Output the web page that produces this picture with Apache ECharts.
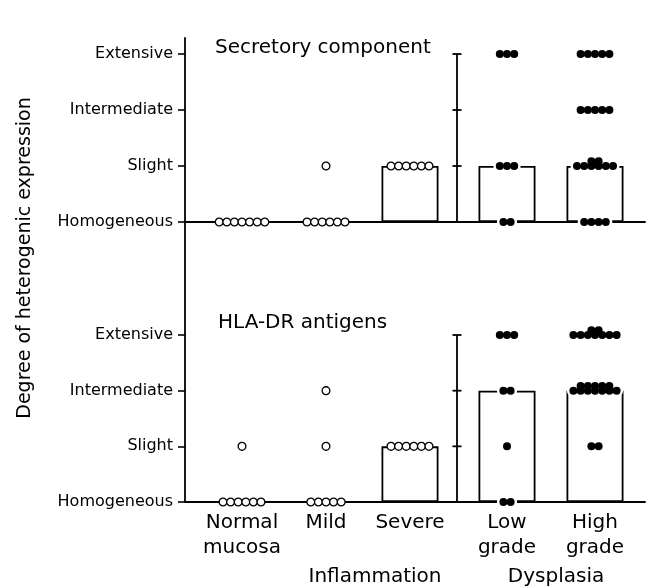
<!DOCTYPE html>
<html>
<head>
<meta charset="utf-8">
<script src="https://cdn.jsdelivr.net/npm/echarts@6/dist/echarts.min.js"></script>
<style>
  html, body { margin: 0; padding: 0; background: #fff; }
  #chart { width: 651px; height: 588px; }
</style>
</head>
<body>
<div id="chart"></div>
<script>
// y levels, bottom to top
const levelLabels = ['Homogeneous', 'Slight', 'Intermediate', 'Extensive']
const groups = ['Normal\nmucosa', 'Mild', 'Severe', 'Low\ngrade', 'High\ngrade']
const openMarker = [true, true, true, false, false]

// dots per level (Homogeneous, Slight, Intermediate, Extensive) for each group
const secretoryCounts = [[7, 0, 0, 0], [6, 1, 0, 0], [0, 6, 0, 0], [2, 3, 0, 3], [4, 8, 5, 5]]
// how many of those dots sit on a raised second row
const secretoryRaised = [[0, 0, 0, 0], [0, 0, 0, 0], [0, 0, 0, 0], [0, 0, 0, 0], [0, 2, 0, 0]]
const secretoryMedian = [0, 0, 1, 1, 1]

const hlaCounts = [[6, 1, 0, 0], [5, 1, 1, 0], [0, 6, 0, 0], [2, 1, 2, 3], [0, 2, 12, 9]]
const hlaRaised = [[0, 0, 0, 0], [0, 0, 0, 0], [0, 0, 0, 0], [0, 0, 0, 0], [0, 0, 5, 2]]
const hlaMedian = [0, 0, 1, 2, 2]

// layout (x in px from the y axis)
const groupX = [57, 141, 225, 322, 410]
const sepX = 272
const font = 'DejaVu Sans'
const ink = '#000'

function buildDots(counts, raised) {
  const open = []
  const filled = []
  counts.forEach((row, g) => {
    const step = openMarker[g] ? 7.6 : 7.2
    row.forEach((n, lvl) => {
      const up = raised[g][lvl]
      const low = n - up
      for (let k = 0; k < low; k++) {
        const p = [groupX[g] + (k - (low - 1) / 2) * step, lvl]
        ;(openMarker[g] ? open : filled).push(p)
      }
      for (let k = 0; k < up; k++) {
        const p = [groupX[g] + (k - (up - 1) / 2) * step, lvl + 0.085]
        ;(openMarker[g] ? open : filled).push(p)
      }
    })
  })
  return { open, filled }
}

function panelSeries(idx, counts, raised, median) {
  const dots = buildDots(counts, raised)
  const bars = median.map((m, g) => [groupX[g], m]).filter((d) => d[1] > 0)
  return [
    {
      type: 'bar', xAxisIndex: idx, yAxisIndex: idx, data: bars, barWidth: 57,
      itemStyle: { color: '#fff', borderColor: ink, borderWidth: 1.8 }, z: 2,
    },
    {
      type: 'line', xAxisIndex: idx, yAxisIndex: idx,
      data: levelLabels.map((_, l) => [sepX, l]),
      symbol: 'rect', symbolSize: [9, 1.8], showSymbol: true,
      lineStyle: { color: ink, width: 1.8 }, itemStyle: { color: ink }, z: 3,
    },
    {
      type: 'scatter', xAxisIndex: idx, yAxisIndex: idx, data: dots.filled,
      symbolSize: 13, itemStyle: { color: '#fff', opacity: 1 }, z: 4,
    },
    {
      type: 'scatter', xAxisIndex: idx, yAxisIndex: idx, data: dots.filled,
      symbolSize: 8, itemStyle: { color: ink, opacity: 1 }, z: 5,
    },
    {
      type: 'scatter', xAxisIndex: idx, yAxisIndex: idx, data: dots.open,
      symbolSize: 7.8, itemStyle: { color: '#fff', borderColor: ink, borderWidth: 1.3, opacity: 1 }, z: 5,
    },
  ]
}

function yAxis(idx, max) {
  return {
    type: 'value', gridIndex: idx, min: 0, max: max, interval: 1,
    axisLine: { show: true, lineStyle: { color: ink, width: 1.8 } },
    axisTick: { show: true, length: 7, customValues: [0, 1, 2, 3], lineStyle: { color: ink, width: 1.6 } },
    axisLabel: {
      customValues: [0, 1, 2, 3], margin: 12,
      formatter: (v) => levelLabels[Math.round(v)] || '',
      fontFamily: font, fontSize: 16, color: ink,
    },
    splitLine: { show: false },
  }
}

function xAxis(idx, withLabels) {
  return {
    type: 'value', gridIndex: idx, min: 0, max: 460,
    axisLine: { show: true, onZero: false, lineStyle: { color: ink, width: 1.8 } },
    axisTick: { show: false },
    axisLabel: withLabels
      ? {
          customValues: groupX, margin: 8, lineHeight: 25,
          formatter: (v) => groups[groupX.indexOf(v)] || '',
          fontFamily: font, fontSize: 20, color: ink,
        }
      : { show: false },
    splitLine: { show: false },
  }
}

const chart = echarts.init(document.getElementById('chart'))
chart.setOption({
  animation: false,
  backgroundColor: '#fff',
  grid: [
    { left: 185, top: 38, width: 460, height: 184 },
    { left: 185, top: 222, width: 460, height: 280 },
  ],
  xAxis: [xAxis(0, false), xAxis(1, true)],
  yAxis: [yAxis(0, 3.286), yAxis(1, 5.03)],
  series: [
    ...panelSeries(0, secretoryCounts, secretoryRaised, secretoryMedian),
    ...panelSeries(1, hlaCounts, hlaRaised, hlaMedian),
  ],
  graphic: [
    {
      type: 'text', left: 215, top: 38,
      style: { text: 'Secretory component', font: `20px "${font}"`, fill: ink },
    },
    {
      type: 'text', left: 218, top: 313,
      style: { text: 'HLA-DR antigens', font: `20px "${font}"`, fill: ink },
    },
    {
      type: 'text', x: 375, y: 577,
      style: { text: 'Inflammation', font: `20px "${font}"`, fill: ink, align: 'center', verticalAlign: 'middle' },
    },
    {
      type: 'text', x: 556, y: 577,
      style: { text: 'Dysplasia', font: `20px "${font}"`, fill: ink, align: 'center', verticalAlign: 'middle' },
    },
    {
      type: 'text', x: 25, y: 258, rotation: Math.PI / 2,
      style: { text: 'Degree of heterogenic expression', font: `19px "${font}"`, fill: ink, align: 'center', verticalAlign: 'middle' },
    },
  ],
})
</script>
</body>
</html>
